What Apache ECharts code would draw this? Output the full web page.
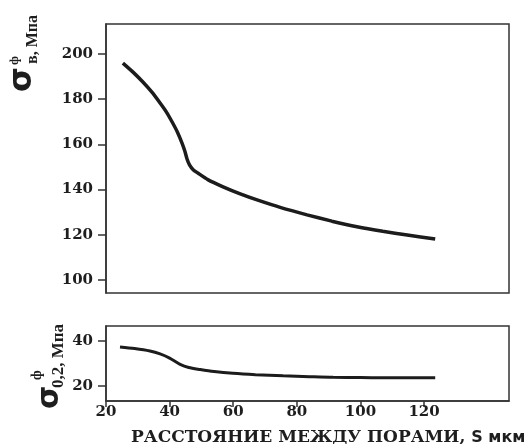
<!DOCTYPE html>
<html>
<head>
<meta charset="utf-8">
<script src="https://cdn.jsdelivr.net/npm/echarts@6/dist/echarts.min.js"></script>
<style>html,body{margin:0;padding:0;background:#fff}#c{width:532px;height:444px}</style>
</head>
<body>
<div id="c"></div>
<script>
// Data
var xTicks = [20, 40, 60, 80, 100, 120];
var yTopTicks = [100, 120, 140, 160, 180, 200];
var yBotTicks = [20, 40];
var xTop = [25.3, 28.5, 31.6, 34.5, 37.0, 39.0, 40.8, 42.5, 43.9, 44.8, 45.5, 46.3, 47.4, 48.9, 52.0, 56.8, 62.0, 67.5, 75.0, 83.2, 91.0, 98.9, 107.0, 114.7, 123.5];
var yTop = [196.0, 192.0, 187.6, 183.0, 178.3, 174.3, 169.9, 165.3, 160.6, 157.0, 153.4, 150.8, 148.8, 147.3, 144.4, 141.2, 138.2, 135.4, 132.0, 128.8, 126.0, 123.5, 121.5, 119.9, 118.1];
var xBot = [24.4, 29.0, 33.8, 37.0, 40.0, 43.3, 46.0, 49.6, 54.0, 59.9, 67.0, 75.7, 84.0, 91.4, 100.0, 107.1, 115.0, 123.5];
var yBot = [37.4, 36.7, 35.6, 34.3, 32.4, 29.6, 28.2, 27.3, 26.4, 25.6, 25.0, 24.5, 24.1, 23.8, 23.7, 23.6, 23.6, 23.6];

function pairs(xs, ys) { return xs.map(function (x, i) { return [x, ys[i]]; }); }

var serif = '"Liberation Serif", "DejaVu Serif", serif';
var wserif = '"DejaVu Serif", serif';
var axisCol = '#333';
var txt = '#1e1e1e';
var chart = echarts.init(document.getElementById('c'));
chart.setOption({
  animation: false,
  grid: [
    { left: 106, right: 23, top: 24, height: 269, show: true, borderColor: axisCol, borderWidth: 1.5, backgroundColor: 'transparent', outerBoundsMode: 'none', containLabel: false },
    { left: 106, right: 23, top: 326, height: 75, show: true, borderColor: axisCol, borderWidth: 1.5, backgroundColor: 'transparent', outerBoundsMode: 'none', containLabel: false }
  ],
  xAxis: [
    { type: 'value', gridIndex: 0, min: 20, max: 146.7, axisLine: { show: false }, axisTick: { show: false }, axisLabel: { show: false }, splitLine: { show: false } },
    { type: 'value', gridIndex: 1, min: 20, max: 146.7,
      axisLine: { show: true, lineStyle: { color: axisCol, width: 1.5 } },
      axisTick: { show: true, length: 6, lineStyle: { color: axisCol, width: 1.5 }, customValues: xTicks },
      axisLabel: { show: true, customValues: xTicks, color: txt, fontFamily: wserif, fontWeight: 'bold', fontSize: 15, margin: 4 },
      splitLine: { show: false },
      name: '{a|РАССТОЯНИЕ МЕЖДУ ПОРАМИ, }{b|S мкм}', nameLocation: 'start', nameGap: 0,
      nameTextStyle: { align: 'left', verticalAlign: 'top', padding: [28, 0, 0, 25],
        rich: { a: { fontFamily: wserif, fontWeight: 'bold', fontSize: 17, color: txt }, b: { fontFamily: '"DejaVu Sans", sans-serif', fontWeight: 'bold', fontSize: 16, color: txt } } }
    }
  ],
  yAxis: [
    { type: 'value', gridIndex: 0, min: 94.2, max: 213.3,
      axisLine: { show: true, lineStyle: { color: axisCol, width: 1.5 } },
      axisTick: { show: true, length: 8, lineStyle: { color: axisCol, width: 1.5 }, customValues: yTopTicks },
      axisLabel: { show: true, customValues: yTopTicks, color: txt, fontFamily: wserif, fontWeight: 'bold', fontSize: 15, margin: 13 },
      splitLine: { show: false } },
    { type: 'value', gridIndex: 1, min: 13.2, max: 46.8,
      axisLine: { show: true, lineStyle: { color: axisCol, width: 1.5 } },
      axisTick: { show: true, length: 8, lineStyle: { color: axisCol, width: 1.5 }, customValues: yBotTicks },
      axisLabel: { show: true, customValues: yBotTicks, color: txt, fontFamily: wserif, fontWeight: 'bold', fontSize: 15, margin: 13 },
      splitLine: { show: false } }
  ],
  series: [
    { type: 'line', xAxisIndex: 0, yAxisIndex: 0, data: pairs(xTop, yTop), smooth: 0.2, showSymbol: false,
      lineStyle: { color: '#1c1c1c', width: 3.5 } },
    { type: 'line', xAxisIndex: 1, yAxisIndex: 1, data: pairs(xBot, yBot), smooth: 0.3, showSymbol: false,
      lineStyle: { color: '#1c1c1c', width: 3 } }
  ],
  graphic: [
    { type: 'group', x: 39, y: 92, rotation: Math.PI / 2, children: [
      { type: 'text', x: 0, y: 0, style: { text: 'σ', font: 'bold 32px "DejaVu Sans", sans-serif', fill: txt, textAlign: 'left', textVerticalAlign: 'bottom' } },
      { type: 'text', x: 28, y: 2, style: { text: 'в, Mпа', font: 'bold 16px ' + serif, fill: txt, textAlign: 'left', textVerticalAlign: 'bottom' } },
      { type: 'text', x: 27, y: -18, style: { text: 'ф', font: 'bold 13px ' + serif, fill: txt, textAlign: 'left', textVerticalAlign: 'bottom' } }
    ] },
    { type: 'group', x: 65, y: 409, rotation: Math.PI / 2, children: [
      { type: 'text', x: 0, y: 0, style: { text: 'σ', font: 'bold 30px "DejaVu Sans", sans-serif', fill: txt, textAlign: 'left', textVerticalAlign: 'bottom' } },
      { type: 'text', x: 21, y: 2, style: { text: '0,2, Mпа', font: 'bold 17px ' + serif, fill: txt, textAlign: 'left', textVerticalAlign: 'bottom' } },
      { type: 'text', x: 29, y: -21, style: { text: 'ф', font: 'bold 14px ' + serif, fill: txt, textAlign: 'left', textVerticalAlign: 'bottom' } }
    ] }
  ]
});
</script>
</body>
</html>
